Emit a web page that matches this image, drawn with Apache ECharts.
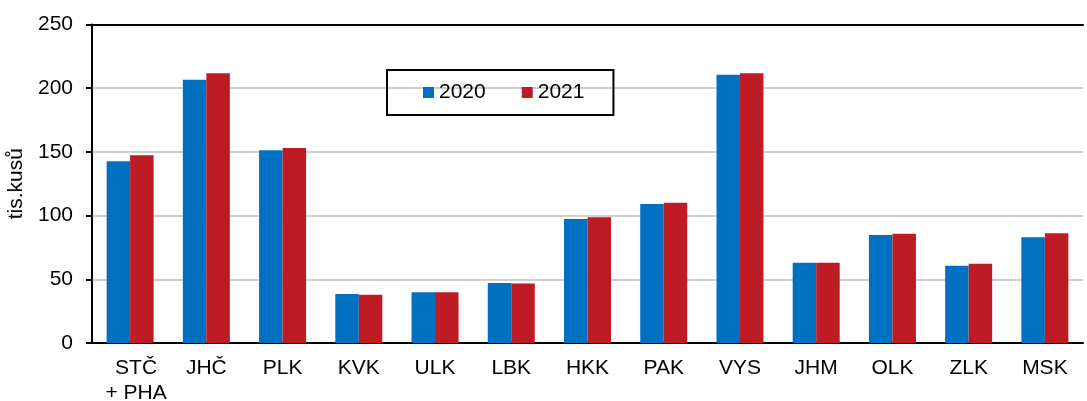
<!DOCTYPE html>
<html>
<head>
<meta charset="utf-8">
<script src="https://cdn.jsdelivr.net/npm/echarts@6/dist/echarts.min.js"></script>
<style>
  html, body { margin: 0; padding: 0; background: #fff; }
  #chart { width: 1087px; height: 401px; }
</style>
</head>
<body>
<div id="chart"></div>
<script>
const categories = ['STČ\n+ PHA', 'JHČ', 'PLK', 'KVK', 'ULK', 'LBK', 'HKK', 'PAK', 'VYS', 'JHM', 'OLK', 'ZLK', 'MSK'];
const values2020 = [142.6, 206.7, 151.3, 38.5, 39.8, 47.1, 97.3, 109.1, 210.6, 63.0, 84.8, 60.7, 83.0];
const values2021 = [147.3, 211.7, 153.0, 37.9, 39.8, 46.8, 98.7, 110.1, 211.7, 63.0, 85.8, 62.2, 86.1];
const yTicks = [0, 50, 100, 150, 200, 250];

const font = 'Liberation Sans, Arial, sans-serif';
const chart = echarts.init(document.getElementById('chart'), null, { renderer: 'canvas' });

// first label sits a little right of its category centre in the original
const xData = categories.map((c, i) => i === 0
    ? { value: c, textStyle: { padding: [0, 0, 0, 12] } }
    : c);

chart.setOption({
    animation: false,
    textStyle: { fontFamily: font },
    grid: { left: 92, right: 4, top: 24.5, bottom: 58, containLabel: false, outerBoundsMode: 'none' },
    legend: {
        left: 387,
        top: 70,
        padding: [12, 29, 12, 36],
        itemGap: 36,
        itemWidth: 11,
        itemHeight: 11,
        icon: 'rect',
        borderColor: '#000',
        borderWidth: 2,
        textStyle: { fontSize: 21, color: '#000', fontFamily: font },
        data: ['2020', '2021']
    },
    xAxis: [
        {
            type: 'category',
            data: xData,
            axisLine: { lineStyle: { color: '#000', width: 2 } },
            axisTick: { show: false },
            axisLabel: { fontSize: 21, color: '#000', margin: 13, lineHeight: 25, interval: 0 }
        },
        {
            type: 'category',
            position: 'top',
            data: categories,
            axisLine: { lineStyle: { color: '#000', width: 2 } },
            axisTick: { show: false },
            axisLabel: { show: false }
        }
    ],
    yAxis: {
        type: 'value',
        min: yTicks[0],
        max: yTicks[yTicks.length - 1],
        interval: 50,
        name: 'tis.kusů',
        nameLocation: 'middle',
        nameRotate: 90,
        nameGap: 63,
        nameTextStyle: { fontSize: 21, color: '#000', fontFamily: font },
        axisLine: { show: true, lineStyle: { color: '#000', width: 2 } },
        axisTick: { show: true, length: 6, lineStyle: { color: '#000', width: 2 } },
        axisLabel: { fontSize: 21, color: '#000', margin: 19 },
        splitLine: { lineStyle: { color: '#c0c0c0', width: 1.5 } }
    },
    series: [
        {
            name: '2020',
            type: 'bar',
            data: values2020,
            barWidth: 23.5,
            barGap: '0%',
            itemStyle: { color: '#0070c0' }
        },
        {
            name: '2021',
            type: 'bar',
            data: values2021,
            barWidth: 23.5,
            itemStyle: { color: '#be1c24' }
        }
    ]
});
</script>
</body>
</html>
